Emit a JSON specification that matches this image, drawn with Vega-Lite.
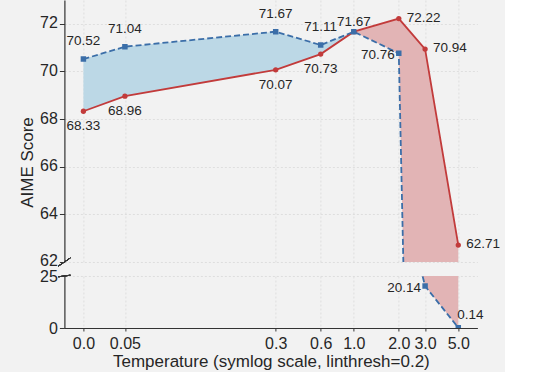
{
  "$schema": "https://vega.github.io/schema/vega-lite/v6.json",
  "padding": {"left": 18.4, "top": 0, "right": 5, "bottom": 2},
  "background": "#f2f2f2",
  "data": {"values": [
    {"temp": 0, "red": 68.33, "blue": 70.52},
    {"temp": 0.05, "red": 68.96, "blue": 71.04},
    {"temp": 0.3, "red": 70.07, "blue": 71.67},
    {"temp": 0.6, "red": 70.73, "blue": 71.11},
    {"temp": 1.0, "red": 71.67, "blue": 71.67},
    {"temp": 2.0, "red": 72.22, "blue": 70.76},
    {"temp": 3.0, "red": 70.94, "blue": 20.14},
    {"temp": 5.0, "red": 62.71, "blue": 0.14}
  ]},
  "bounds": "flush",
  "spacing": 14,
  "vconcat": [
    {
      "width": 414,
      "height": 262,
      "encoding": {
        "x": {"field": "temp", "type": "quantitative",
          "scale": {"domain": [-0.0229, 0.2, 0.3, 0.6, 1, 2, 3, 5, 6.67], "range": [0, 185, 211.3, 256.3, 289.4, 334.4, 360.7, 393.9, 413], "nice": false, "zero": false},
          "axis": {"values": [0, 0.05, 0.3, 0.6, 1, 2, 3, 5], "labels": false, "ticks": false, "domain": false, "title": null, "grid": true}}
      },
      "layer": [
        {"transform": [{"filter": "datum.temp <= 1"}],
         "mark": {"type": "area", "clip": true, "color": "#bcd8e6"},
         "encoding": {"y": {"field": "blue", "type": "quantitative", "scale": {"domain": [62, 73], "nice": false, "zero": false},
            "axis": {"values": [62, 64, 66, 68, 70, 72], "title": "AIME Score", "titleX": -32, "titleY": 162, "titleAngle": -90, "titleAlign": "center", "titleBaseline": "alphabetic", "tickSize": 5, "labelPadding": 2, "labelOffset": -1, "grid": true}},
           "y2": {"field": "red"}}},
        {"transform": [{"filter": "datum.temp >= 1"}],
         "mark": {"type": "area", "clip": true, "color": "#e2b4b5"},
         "encoding": {"y": {"field": "red", "type": "quantitative", "scale": {"domain": [62, 73], "nice": false, "zero": false},
            "axis": {"values": [62, 64, 66, 68, 70, 72], "title": "AIME Score", "titleX": -32, "titleY": 162, "titleAngle": -90, "titleAlign": "center", "titleBaseline": "alphabetic", "tickSize": 5, "labelPadding": 2, "labelOffset": -1, "grid": true}},
           "y2": {"field": "blue"}}},
        {"mark": {"type": "line", "clip": true, "color": "#c23b3b", "strokeWidth": 1.8},
         "encoding": {"y": {"field": "red", "type": "quantitative", "scale": {"domain": [62, 73], "nice": false, "zero": false},
            "axis": {"values": [62, 64, 66, 68, 70, 72], "title": "AIME Score", "titleX": -32, "titleY": 162, "titleAngle": -90, "titleAlign": "center", "titleBaseline": "alphabetic", "tickSize": 5, "labelPadding": 2, "labelOffset": -1, "grid": true}}}},
        {"mark": {"type": "line", "clip": true, "color": "#3b6ea8", "strokeWidth": 1.8, "strokeDash": [6, 3]},
         "encoding": {"y": {"field": "blue", "type": "quantitative", "scale": {"domain": [62, 73], "nice": false, "zero": false},
            "axis": {"values": [62, 64, 66, 68, 70, 72], "title": "AIME Score", "titleX": -32, "titleY": 162, "titleAngle": -90, "titleAlign": "center", "titleBaseline": "alphabetic", "tickSize": 5, "labelPadding": 2, "labelOffset": -1, "grid": true}}}},
        {"mark": {"type": "point", "shape": "circle", "filled": true, "opacity": 1, "clip": true, "color": "#c23b3b", "size": 28},
         "encoding": {"y": {"field": "red", "type": "quantitative", "scale": {"domain": [62, 73], "nice": false, "zero": false},
            "axis": {"values": [62, 64, 66, 68, 70, 72], "title": "AIME Score", "titleX": -32, "titleY": 162, "titleAngle": -90, "titleAlign": "center", "titleBaseline": "alphabetic", "tickSize": 5, "labelPadding": 2, "labelOffset": -1, "grid": true}}}},
        {"mark": {"type": "point", "shape": "square", "filled": true, "opacity": 1, "clip": true, "color": "#3b6ea8", "size": 30},
         "encoding": {"y": {"field": "blue", "type": "quantitative", "scale": {"domain": [62, 73], "nice": false, "zero": false},
            "axis": {"values": [62, 64, 66, 68, 70, 72], "title": "AIME Score", "titleX": -32, "titleY": 162, "titleAngle": -90, "titleAlign": "center", "titleBaseline": "alphabetic", "tickSize": 5, "labelPadding": 2, "labelOffset": -1, "grid": true}}}},
        {"transform": [{"filter": "datum.temp <= 0.6"}],
         "mark": {"type": "text", "fontSize": 13.5, "color": "#262626", "align": "center", "baseline": "middle", "dy": 15},
         "encoding": {"y": {"field": "red", "type": "quantitative", "scale": {"domain": [62, 73], "nice": false, "zero": false},
            "axis": {"values": [62, 64, 66, 68, 70, 72], "title": "AIME Score", "titleX": -32, "titleY": 162, "titleAngle": -90, "titleAlign": "center", "titleBaseline": "alphabetic", "tickSize": 5, "labelPadding": 2, "labelOffset": -1, "grid": true}},
           "text": {"field": "red", "type": "quantitative", "format": ".2f"}}},
        {"transform": [{"filter": "datum.temp >= 2"}],
         "mark": {"type": "text", "fontSize": 13.5, "color": "#262626", "align": "left", "baseline": "middle", "dx": 8, "dy": -1},
         "encoding": {"y": {"field": "red", "type": "quantitative", "scale": {"domain": [62, 73], "nice": false, "zero": false},
            "axis": {"values": [62, 64, 66, 68, 70, 72], "title": "AIME Score", "titleX": -32, "titleY": 162, "titleAngle": -90, "titleAlign": "center", "titleBaseline": "alphabetic", "tickSize": 5, "labelPadding": 2, "labelOffset": -1, "grid": true}},
           "text": {"field": "red", "type": "quantitative", "format": ".2f"}}},
        {"transform": [{"filter": "datum.temp <= 0.6"}],
         "mark": {"type": "text", "fontSize": 13.5, "color": "#262626", "align": "center", "baseline": "middle", "dy": -18},
         "encoding": {"y": {"field": "blue", "type": "quantitative", "scale": {"domain": [62, 73], "nice": false, "zero": false},
            "axis": {"values": [62, 64, 66, 68, 70, 72], "title": "AIME Score", "titleX": -32, "titleY": 162, "titleAngle": -90, "titleAlign": "center", "titleBaseline": "alphabetic", "tickSize": 5, "labelPadding": 2, "labelOffset": -1, "grid": true}},
           "text": {"field": "blue", "type": "quantitative", "format": ".2f"}}},
        {"transform": [{"filter": "datum.temp == 1"}],
         "mark": {"type": "text", "fontSize": 13.5, "color": "#262626", "align": "center", "baseline": "middle", "dy": -10},
         "encoding": {"y": {"field": "blue", "type": "quantitative", "scale": {"domain": [62, 73], "nice": false, "zero": false},
            "axis": {"values": [62, 64, 66, 68, 70, 72], "title": "AIME Score", "titleX": -32, "titleY": 162, "titleAngle": -90, "titleAlign": "center", "titleBaseline": "alphabetic", "tickSize": 5, "labelPadding": 2, "labelOffset": -1, "grid": true}},
           "text": {"field": "blue", "type": "quantitative", "format": ".2f"}}},
        {"transform": [{"filter": "datum.temp == 2"}],
         "mark": {"type": "text", "fontSize": 13.5, "color": "#262626", "align": "right", "baseline": "middle", "dx": -4, "dy": 2},
         "encoding": {"y": {"field": "blue", "type": "quantitative", "scale": {"domain": [62, 73], "nice": false, "zero": false},
            "axis": {"values": [62, 64, 66, 68, 70, 72], "title": "AIME Score", "titleX": -32, "titleY": 162, "titleAngle": -90, "titleAlign": "center", "titleBaseline": "alphabetic", "tickSize": 5, "labelPadding": 2, "labelOffset": -1, "grid": true}},
           "text": {"field": "blue", "type": "quantitative", "format": ".2f"}}},
        {"mark": {"type": "rule", "clip": false, "color": "#333333", "strokeWidth": 1},
         "encoding": {
           "x": {"datum": -0.0301, "type": "quantitative",
             "scale": {"domain": [-0.0229, 0.2, 0.3, 0.6, 1, 2, 3, 5, 6.67], "range": [0, 185, 211.3, 256.3, 289.4, 334.4, 360.7, 393.9, 413], "nice": false, "zero": false},
             "axis": {"values": [0, 0.05, 0.3, 0.6, 1, 2, 3, 5], "labels": false, "ticks": false, "domain": false, "title": null, "grid": true}},
           "x2": {"datum": -0.0157},
           "y": {"datum": 61.83, "type": "quantitative", "scale": {"domain": [62, 73], "nice": false, "zero": false},
             "axis": {"values": [62, 64, 66, 68, 70, 72], "title": "AIME Score", "titleX": -32, "titleY": 162, "titleAngle": -90, "titleAlign": "center", "titleBaseline": "alphabetic", "tickSize": 5, "labelPadding": 2, "labelOffset": -1, "grid": true}},
           "y2": {"datum": 62.17}}}
      ]
    },
    {
      "width": 414,
      "height": 52,
      "encoding": {
        "x": {"field": "temp", "type": "quantitative",
          "scale": {"domain": [-0.0229, 0.2, 0.3, 0.6, 1, 2, 3, 5, 6.67], "range": [0, 185, 211.3, 256.3, 289.4, 334.4, 360.7, 393.9, 413], "nice": false, "zero": false},
          "axis": {"values": [0, 0.05, 0.3, 0.6, 1, 2, 3, 5], "labelExpr": "datum.value == 0.05 ? '0.05' : format(datum.value, '.1f')", "title": "Temperature (symlog scale, linthresh=0.2)", "tickSize": 3, "labelPadding": 5, "labelOverlap": false, "labelFlush": false, "labelBound": false, "grid": true, "titlePadding": 2}}
      },
      "layer": [
        {"transform": [{"filter": "datum.temp >= 1"}],
         "mark": {"type": "area", "clip": true, "color": "#e2b4b5"},
         "encoding": {"y": {"field": "red", "type": "quantitative", "scale": {"domain": [0, 25], "nice": false, "zero": false},
            "axis": {"values": [0, 25], "title": null, "tickSize": 5, "labelPadding": 2, "labelOffset": 1, "grid": true}},
           "y2": {"field": "blue"}}},
        {"mark": {"type": "line", "clip": true, "color": "#c23b3b", "strokeWidth": 1.8},
         "encoding": {"y": {"field": "red", "type": "quantitative", "scale": {"domain": [0, 25], "nice": false, "zero": false},
            "axis": {"values": [0, 25], "title": null, "tickSize": 5, "labelPadding": 2, "labelOffset": 1, "grid": true}}}},
        {"mark": {"type": "line", "clip": true, "color": "#3b6ea8", "strokeWidth": 1.8, "strokeDash": [6, 3]},
         "encoding": {"y": {"field": "blue", "type": "quantitative", "scale": {"domain": [0, 25], "nice": false, "zero": false},
            "axis": {"values": [0, 25], "title": null, "tickSize": 5, "labelPadding": 2, "labelOffset": 1, "grid": true}}}},
        {"mark": {"type": "point", "shape": "square", "filled": true, "opacity": 1, "clip": true, "color": "#3b6ea8", "size": 30},
         "encoding": {"y": {"field": "blue", "type": "quantitative", "scale": {"domain": [0, 25], "nice": false, "zero": false},
            "axis": {"values": [0, 25], "title": null, "tickSize": 5, "labelPadding": 2, "labelOffset": 1, "grid": true}}}},
        {"transform": [{"filter": "datum.temp == 3"}],
         "mark": {"type": "text", "fontSize": 13.5, "color": "#262626", "align": "right", "baseline": "middle", "dx": -4, "dy": 2},
         "encoding": {"y": {"field": "blue", "type": "quantitative", "scale": {"domain": [0, 25], "nice": false, "zero": false},
            "axis": {"values": [0, 25], "title": null, "tickSize": 5, "labelPadding": 2, "labelOffset": 1, "grid": true}},
           "text": {"field": "blue", "type": "quantitative", "format": ".2f"}}},
        {"transform": [{"filter": "datum.temp == 5"}],
         "mark": {"type": "text", "fontSize": 13.5, "color": "#262626", "align": "left", "baseline": "middle", "dx": -1, "dy": -13},
         "encoding": {"y": {"field": "blue", "type": "quantitative", "scale": {"domain": [0, 25], "nice": false, "zero": false},
            "axis": {"values": [0, 25], "title": null, "tickSize": 5, "labelPadding": 2, "labelOffset": 1, "grid": true}},
           "text": {"field": "blue", "type": "quantitative", "format": ".2f"}}},
        {"mark": {"type": "rule", "clip": false, "color": "#333333", "strokeWidth": 1},
         "encoding": {
           "x": {"datum": -0.0301, "type": "quantitative",
             "scale": {"domain": [-0.0229, 0.2, 0.3, 0.6, 1, 2, 3, 5, 6.67], "range": [0, 185, 211.3, 256.3, 289.4, 334.4, 360.7, 393.9, 413], "nice": false, "zero": false},
             "axis": {"values": [0, 0.05, 0.3, 0.6, 1, 2, 3, 5], "labelExpr": "datum.value == 0.05 ? '0.05' : format(datum.value, '.1f')", "title": "Temperature (symlog scale, linthresh=0.2)", "tickSize": 3, "labelPadding": 5, "labelOverlap": false, "labelFlush": false, "labelBound": false, "grid": true, "titlePadding": 2}},
           "x2": {"datum": -0.0157},
           "y": {"datum": 24.625, "type": "quantitative", "scale": {"domain": [0, 25], "nice": false, "zero": false},
             "axis": {"values": [0, 25], "title": null, "tickSize": 5, "labelPadding": 2, "labelOffset": 1, "grid": true}},
           "y2": {"datum": 25.375}}}
      ]
    }
  ],
  "config": {
    "font": "Liberation Sans",
    "view": {"stroke": null},
    "axis": {
      "labelFont": "Liberation Sans", "labelFontSize": 16, "labelColor": "#262626",
      "titleFont": "Liberation Sans", "titleFontSize": 17, "titleFontWeight": "normal", "titleColor": "#262626",
      "domainColor": "#333333", "domainWidth": 1.2, "tickColor": "#333333",
      "gridColor": "#d9d9d9", "gridDash": [2, 2], "gridWidth": 0.8
    }
  }
}
